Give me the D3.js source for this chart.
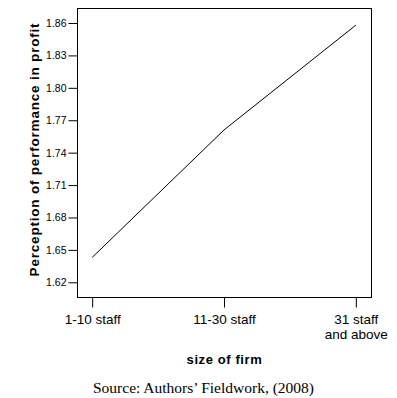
<!DOCTYPE html>
<html>
<head>
<meta charset="utf-8">
<script src="https://cdn.jsdelivr.net/npm/d3@7"></script>
<style>
  body { margin: 0; background: #fff; }
  svg { display: block; }
</style>
</head>
<body>
<svg id="chart" width="397" height="398"></svg>
<script>
// values
const sizes = ["1-10 staff", "11-30 staff", "31 staff\nand above"];
const profit = [1.643, 1.761, 1.858];
const yTicks = [1.62, 1.65, 1.68, 1.71, 1.74, 1.77, 1.80, 1.83, 1.86];

const svg = d3.select("#chart");
const frame = {left: 77, top: 8, right: 371, bottom: 297};

const x = d3.scalePoint()
  .domain(sizes)
  .range([frame.left, frame.right])
  .padding(0.115);

const y = d3.scaleLinear()
  .domain([1.62, 1.86])
  .range([282.3, 23]);

// box round the plot
svg.append("rect")
  .attr("x", frame.left + 0.5).attr("y", frame.top + 0.5)
  .attr("width", frame.right - frame.left).attr("height", frame.bottom - frame.top)
  .attr("fill", "none").attr("stroke", "#000").attr("stroke-width", 1);

const yAxis = svg.append("g")
  .attr("transform", `translate(${frame.left + 0.5},0)`)
  .call(d3.axisLeft(y).tickValues(yTicks).tickFormat(d3.format(".2f")).tickSize(9).tickPadding(2));
yAxis.select(".domain").remove();
yAxis.selectAll("text").attr("font-family", "Arial, 'Liberation Sans', sans-serif")
  .attr("font-size", 10.5).attr("fill", "#000");
yAxis.selectAll("line").attr("stroke", "#000");

const xAxis = svg.append("g")
  .attr("transform", `translate(0,${frame.bottom + 0.5})`)
  .call(d3.axisBottom(x).tickSize(10).tickPadding(5).tickFormat(""));
xAxis.select(".domain").remove();
xAxis.selectAll("line").attr("stroke", "#000");
xAxis.selectAll(".tick").each(function(d) {
  const t = d3.select(this).append("text")
    .attr("fill", "#000")
    .attr("font-family", "Arial, 'Liberation Sans', sans-serif")
    .attr("font-size", 13.5)
    .attr("text-anchor", "middle");
  d.split("\n").forEach((line, i) => {
    t.append("tspan").attr("x", 0).attr("y", 26 + i * 15).text(line);
  });
});

// the line
const line = d3.line()
  .x((d, i) => x(sizes[i]))
  .y(d => y(d));

svg.append("path")
  .datum(profit)
  .attr("d", line)
  .attr("fill", "none")
  .attr("stroke", "#000")
  .attr("stroke-width", 1);

// titles
svg.append("text")
  .attr("transform", `translate(38.5,149.5) rotate(-90)`)
  .attr("text-anchor", "middle")
  .attr("font-family", "Arial, 'Liberation Sans', sans-serif")
  .attr("font-weight", "bold")
  .attr("font-size", 13.5)
  .attr("letter-spacing", 0.8)
  .text("Perception of performance in profit");

svg.append("text")
  .attr("x", 224.5).attr("y", 363.5)
  .attr("text-anchor", "middle")
  .attr("font-family", "Arial, 'Liberation Sans', sans-serif")
  .attr("font-weight", "bold")
  .attr("font-size", 13)
  .attr("letter-spacing", 0.6)
  .text("size of firm");

svg.append("text")
  .attr("x", 93).attr("y", 393)
  .attr("font-family", "'Times New Roman', 'Liberation Serif', serif")
  .attr("font-size", 15.5)
  .text("Source: Authors\u2019 Fieldwork, (2008)");
</script>
</body>
</html>
